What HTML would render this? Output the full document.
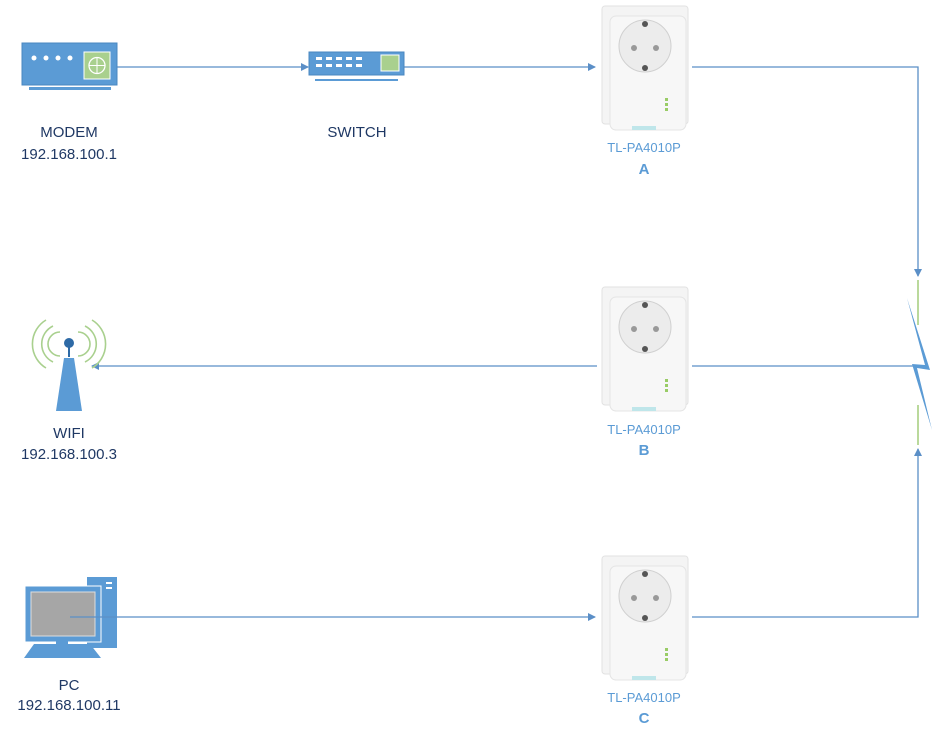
<!DOCTYPE html>
<html><head><style>body{margin:0;background:#fff}svg{display:block}text{font-family:"Liberation Sans",sans-serif}</style></head><body>
<svg width="935" height="740" viewBox="0 0 935 740" xmlns="http://www.w3.org/2000/svg">
<defs>
<marker id="ar" markerWidth="8" markerHeight="8" refX="7" refY="4" orient="auto" markerUnits="userSpaceOnUse"><path d="M0,0 L8,4 L0,8 Z" fill="#5b8fc7"/></marker>
<g id="ad">
<rect x="0" y="0" width="86" height="118" rx="3" fill="#f4f4f4" stroke="#e2e2e2"/>
<rect x="8" y="10" width="76" height="114" rx="6" fill="#f7f7f7" stroke="#e4e4e4"/>
<circle cx="43" cy="40" r="26" fill="#ececec" stroke="#d0d0d0"/>
<circle cx="43" cy="18" r="3" fill="#555"/><circle cx="43" cy="62" r="3" fill="#555"/>
<circle cx="32" cy="42" r="3" fill="#999"/><circle cx="54" cy="42" r="3" fill="#999"/>
<rect x="63" y="92" width="3" height="3" fill="#9c6"/><rect x="63" y="97" width="3" height="3" fill="#9c6"/><rect x="63" y="102" width="3" height="3" fill="#9c6"/>
<rect x="30" y="120" width="24" height="4" fill="#bfe6ea"/>
</g>
</defs>
<g stroke="#5b8fc7" stroke-width="1.3" fill="none">
<line x1="117" y1="67" x2="308" y2="67" marker-end="url(#ar)"/>
<line x1="404" y1="67" x2="595" y2="67" marker-end="url(#ar)"/>
<polyline points="692,67 918,67 918,276" marker-end="url(#ar)"/>
<line x1="692" y1="366" x2="915" y2="366"/>
<line x1="597" y1="366" x2="92" y2="366" marker-end="url(#ar)"/>
<polyline points="692,617 918,617 918,449" marker-end="url(#ar)"/>
</g>
<line x1="918" y1="280" x2="918" y2="325" stroke="#8bbf5a" stroke-width="1.2"/>
<line x1="918" y1="405" x2="918" y2="445" stroke="#8bbf5a" stroke-width="1.2"/>
<path d="M907,298 L930,370 L917,368 L932,430 L912,364 L925,365 Z" fill="#5b9bd5"/>
<!-- modem -->
<rect x="22" y="43" width="95" height="42" fill="#5b9bd5" stroke="#4a87c0"/>
<rect x="29" y="87" width="82" height="3" fill="#5b9bd5"/>
<circle cx="34" cy="58" r="2.5" fill="#fff"/><circle cx="46" cy="58" r="2.5" fill="#fff"/><circle cx="58" cy="58" r="2.5" fill="#fff"/><circle cx="70" cy="58" r="2.5" fill="#fff"/>
<rect x="84" y="52" width="26" height="27" fill="#a9d08e" stroke="#fff"/>
<circle cx="97" cy="65.5" r="8" fill="none" stroke="#fff" stroke-width="1.3"/>
<line x1="89" y1="65.5" x2="105" y2="65.5" stroke="#fff"/><line x1="97" y1="57.5" x2="97" y2="73.5" stroke="#fff"/>
<!-- switch -->
<rect x="309" y="52" width="95" height="23" fill="#5b9bd5" stroke="#4a87c0"/>
<rect x="315" y="79" width="83" height="2" fill="#5b9bd5"/>
<g fill="#fff"><rect x="316" y="57" width="6" height="3"/><rect x="326" y="57" width="6" height="3"/><rect x="336" y="57" width="6" height="3"/><rect x="346" y="57" width="6" height="3"/><rect x="356" y="57" width="6" height="3"/>
<rect x="316" y="64" width="6" height="3"/><rect x="326" y="64" width="6" height="3"/><rect x="336" y="64" width="6" height="3"/><rect x="346" y="64" width="6" height="3"/><rect x="356" y="64" width="6" height="3"/></g>
<rect x="381" y="55" width="18" height="16" fill="#a9d08e" stroke="#fff"/>
<!-- adapters -->
<use href="#ad" x="602" y="6"/>
<use href="#ad" x="602" y="287"/>
<use href="#ad" x="602" y="556"/>
<!-- wifi -->
<g fill="none" stroke="#a9d08e" stroke-width="1.6">
<path d="M60,332 A12,12 0 0 0 60,356"/><path d="M78,332 A12,12 0 0 1 78,356"/>
<path d="M53,326 A20,20 0 0 0 53,362"/><path d="M85,326 A20,20 0 0 1 85,362"/>
<path d="M46,320 A28,28 0 0 0 46,368"/><path d="M92,320 A28,28 0 0 1 92,368"/>
</g>
<circle cx="69" cy="343" r="5" fill="#2e6aa6"/>
<rect x="68" y="345" width="2" height="12" fill="#2e6aa6"/>
<path d="M64,358 L74,358 L82,411 L56,411 Z" fill="#5b9bd5"/>
<!-- pc -->
<rect x="87" y="577" width="30" height="71" fill="#5b9bd5"/>
<rect x="106" y="582" width="6" height="2" fill="#fff"/><rect x="106" y="587" width="6" height="2" fill="#fff"/>
<rect x="25" y="586" width="76" height="56" fill="#5b9bd5" stroke="#fff"/>
<rect x="31" y="592" width="64" height="44" fill="#a6a6a6" stroke="#ddd"/>
<rect x="56" y="637" width="12" height="7" fill="#5b9bd5"/>
<path d="M34,644 L90,644 L101,658 L24,658 Z" fill="#5b9bd5"/>
<line x1="70" y1="617" x2="595" y2="617" stroke="#5b8fc7" stroke-width="1.3" marker-end="url(#ar)"/>
<g fill="#1f3864" font-size="15" text-anchor="middle">
<text x="69" y="137">MODEM</text><text x="69" y="159">192.168.100.1</text>
<text x="357" y="137">SWITCH</text>
<text x="69" y="438">WIFI</text><text x="69" y="459">192.168.100.3</text>
<text x="69" y="690">PC</text><text x="69" y="710">192.168.100.11</text>
</g>
<g fill="#5b9bd5" font-size="13" text-anchor="middle">
<text x="644" y="152">TL-PA4010P</text><text x="644" y="174" font-size="15" font-weight="bold">A</text>
<text x="644" y="434">TL-PA4010P</text><text x="644" y="455" font-size="15" font-weight="bold">B</text>
<text x="644" y="702">TL-PA4010P</text><text x="644" y="723" font-size="15" font-weight="bold">C</text>
</g>
</svg>
</body></html>
